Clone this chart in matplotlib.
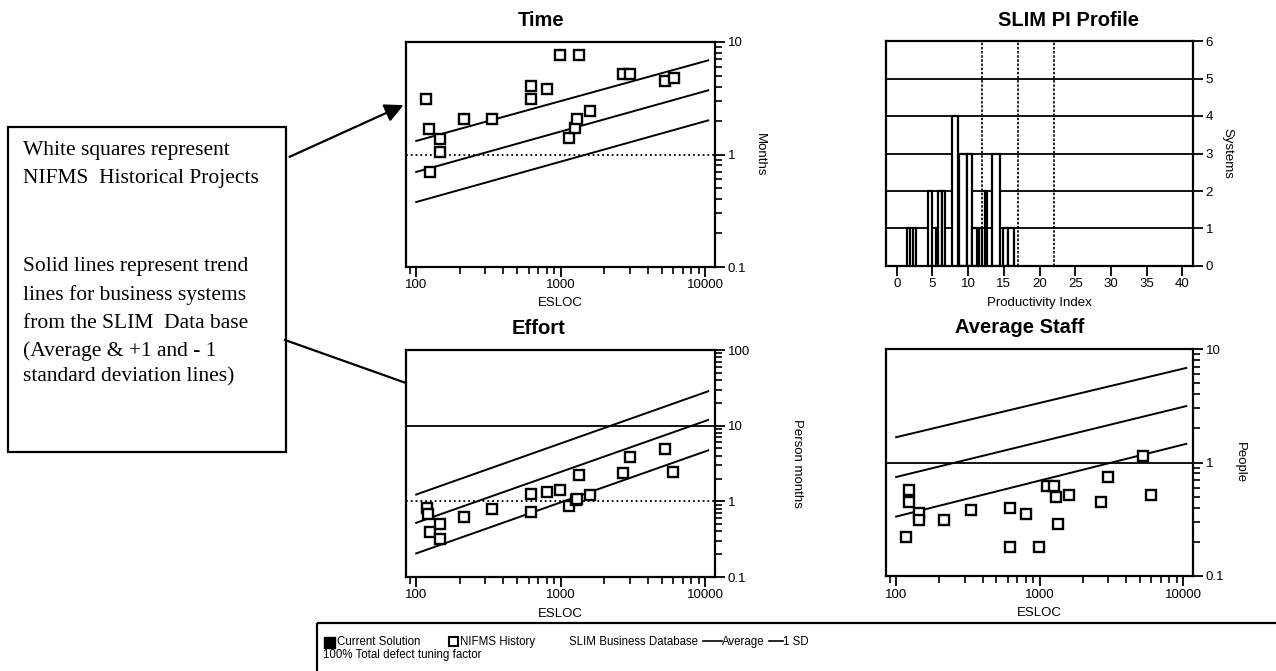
import matplotlib
matplotlib.use('Agg')
import matplotlib.pyplot as plt
from matplotlib.ticker import FixedLocator, FuncFormatter, LogLocator, NullFormatter
from matplotlib.patches import Rectangle

plt.rcParams['font.family'] = ['Liberation Sans', 'DejaVu Sans']

# ---- data ----
trend_esloc = [100, 10500]

time_esloc = [117, 122, 124, 145, 145, 215, 334, 625, 625, 802,
              993, 1133, 1260, 1294, 1349, 1585, 2680, 3030, 5240, 6040]
time_months = [3.1, 1.7, 0.70, 1.38, 1.05, 2.05, 2.05, 4.1, 3.1, 3.8,
               7.6, 1.40, 1.72, 2.08, 7.6, 2.44, 5.2, 5.2, 4.5, 4.8]
time_trend_hi = [1.32, 6.87]
time_trend_avg = [0.70, 3.72]
time_trend_lo = [0.378, 2.01]

effort_esloc = [118, 120, 124, 145, 145, 213, 334, 625, 625, 802,
                993, 1133, 1280, 1300, 1349, 1585, 2680, 3000, 5240, 6000]
effort_pm = [0.82, 0.68, 0.39, 0.50, 0.316, 0.63, 0.80, 1.24, 0.73, 1.33,
             1.40, 0.87, 1.05, 1.09, 2.23, 1.23, 2.40, 3.84, 4.97, 2.47]
effort_trend_hi = [1.23, 28.5]
effort_trend_avg = [0.52, 11.9]
effort_trend_lo = [0.205, 4.72]

staff_esloc = [117, 123, 123, 145, 145, 214, 334, 625, 625, 800,
               990, 1128, 1250, 1300, 1350, 1590, 2680, 3000, 5270, 6000]
staff_people = [0.22, 0.57, 0.45, 0.36, 0.31, 0.31, 0.38, 0.40, 0.18, 0.35,
                0.18, 0.62, 0.62, 0.50, 0.29, 0.52, 0.45, 0.75, 1.13, 0.52]
staff_trend_hi = [1.67, 6.81]
staff_trend_avg = [0.745, 3.14]
staff_trend_lo = [0.334, 1.46]

# SLIM PI profile histogram (bin edges and counts)
pi_lo = [1.4, 2.3, 4.4, 5.45, 5.85, 6.3, 7.7, 8.7, 9.8, 10.5, 11.5, 12.35, 13.4, 14.9, 15.6]
pi_hi = [1.85, 2.7, 4.9, 5.85, 6.3, 6.7, 8.6, 9.8, 10.5, 11.2, 11.95, 12.7, 14.5, 15.6, 16.4]
pi_count = [1, 1, 2, 1, 2, 2, 4, 3, 3, 1, 1, 2, 3, 1, 1]
pi_marks = [12, 17, 22]

W, H = 1276, 671
fig = plt.figure(figsize=(W / 100, H / 100), dpi=100)


def box(l, t, r, b):
    return [l / W, 1 - b / H, (r - l) / W, (b - t) / H]


def frame(ax):
    for s in ax.spines.values():
        s.set_linewidth(1.6)
    ax.yaxis.tick_right()
    ax.yaxis.set_label_position('right')
    ax.tick_params(which='major', direction='out', length=7, width=1.3,
                   labelsize=9.5, pad=2)
    ax.tick_params(which='minor', direction='out', length=5, width=1.2)


def log_panel(rect, esloc, vals, hi, avg, lo, ytop, title, tx, ylabel, ylx, refs):
    ax = fig.add_axes(box(*rect))
    ax.set_xscale('log')
    ax.set_yscale('log')
    ax.set_xlim(85, 11700)
    ax.set_ylim(0.1, ytop)
    frame(ax)
    ax.xaxis.set_major_locator(FixedLocator([100, 1000, 10000]))
    ax.xaxis.set_minor_locator(LogLocator(base=10, subs=range(2, 10)))
    ax.yaxis.set_major_locator(LogLocator(base=10))
    ax.yaxis.set_minor_locator(LogLocator(base=10, subs=range(2, 10)))
    fmt = FuncFormatter(lambda v, p: f'{v:g}')
    ax.xaxis.set_major_formatter(fmt)
    ax.yaxis.set_major_formatter(fmt)
    ax.xaxis.set_minor_formatter(NullFormatter())
    ax.yaxis.set_minor_formatter(NullFormatter())
    for y, ls in refs:
        ax.axhline(y, color='black', lw=1.3, ls=ls, zorder=1)
    for line in (hi, avg, lo):
        ax.plot(trend_esloc, line, color='black', lw=1.4, zorder=2)
    ax.plot(esloc, vals, 's', ms=7.5, mfc='white', mec='black', mew=1.7, zorder=3)
    ax.set_xlabel('ESLOC', fontsize=9.5)
    ax.xaxis.set_label_coords(0.5, -0.135)
    ax.set_ylabel(ylabel, fontsize=9.5, rotation=-90, va='center', ha='center')
    ax.yaxis.set_label_coords(ylx, 0.5)
    ax.text(tx, 1.095, title, transform=ax.transAxes, ha='center', va='center',
            fontsize=14.5, fontweight='bold')
    return ax


log_panel((406, 42, 715, 267), time_esloc, time_months,
          time_trend_hi, time_trend_avg, time_trend_lo, 10,
          'Time', 0.436, 'Months', 1.146, [(1, ':')])
log_panel((406, 350, 715, 577), effort_esloc, effort_pm,
          effort_trend_hi, effort_trend_avg, effort_trend_lo, 100,
          'Effort', 0.43, 'Person months', 1.265, [(10, '-'), (1, ':')])
log_panel((886, 349, 1193, 576), staff_esloc, staff_people,
          staff_trend_hi, staff_trend_avg, staff_trend_lo, 10,
          'Average Staff', 0.437, 'People', 1.153, [(1, '-')])

# SLIM PI profile
ax = fig.add_axes(box(886, 41, 1193, 266))
frame(ax)
ax.set_xlim(-1.5, 41.5)
ax.set_ylim(0, 6)
ax.set_xticks(range(0, 41, 5))
ax.set_yticks(range(0, 7))
for y in range(1, 6):
    ax.axhline(y, color='black', lw=1.3, zorder=1)
for x in pi_marks:
    ax.axvline(x, color='black', lw=1.2, ls=(0, (1.5, 1)), zorder=1)
widths = [h - l for l, h in zip(pi_lo, pi_hi)]
ax.bar(pi_lo, pi_count, width=widths, align='edge', facecolor='white',
       edgecolor='black', lw=1.6, zorder=2)
ax.set_xlabel('Productivity Index', fontsize=9.5)
ax.xaxis.set_label_coords(0.5, -0.14)
ax.set_ylabel('Systems', fontsize=9.5, rotation=-90, va='center', ha='center')
ax.yaxis.set_label_coords(1.111, 0.5)
ax.text(0.596, 1.093, 'SLIM PI Profile', transform=ax.transAxes, ha='center',
        va='center', fontsize=14.5, fontweight='bold')

# overlay for the annotation box, arrows and the legend strip
ov = fig.add_axes([0, 0, 1, 1], facecolor='none')
ov.set_xlim(0, W)
ov.set_ylim(H, 0)
ov.axis('off')

ov.add_patch(Rectangle((8, 127), 278, 325, fill=False, lw=1.6, ec='black'))
serif = ['Liberation Serif', 'DejaVu Serif']
note_lines = [('White squares represent', 150), ('NIFMS  Historical Projects', 178),
              ('Solid lines represent trend', 267), ('lines for business systems', 295),
              ('from the SLIM  Data base', 323), ('(Average & +1 and - 1', 351),
              ('standard deviation lines)', 377)]
for txt, y in note_lines:
    ov.text(23, y, txt, family=serif, fontsize=15.5, va='center', ha='left')

ov.annotate('', xy=(406, 104), xytext=(287, 158),
            arrowprops=dict(arrowstyle='-|>', mutation_scale=28, lw=1.6, color='black'))
ov.plot([285, 406], [340, 383], color='black', lw=1.6)

ov.add_patch(Rectangle((317, 623), 1000, 80, fill=False, lw=1.6, ec='black', clip_on=False))
ov.add_patch(Rectangle((324, 637), 11, 11, fc='black', ec='black'))
ov.add_patch(Rectangle((449, 637), 9, 9, fc='white', ec='black', lw=1.5))
ov.plot([703, 722], [641, 641], color='black', lw=1.2)
ov.plot([769, 783], [641, 641], color='black', lw=1.2)
fs = 8.3
ov.text(337, 642, 'Current Solution', fontsize=fs, va='center')
ov.text(460, 642, 'NIFMS History', fontsize=fs, va='center')
ov.text(569, 642, 'SLIM Business Database', fontsize=fs, va='center')
ov.text(722, 642, 'Average', fontsize=fs, va='center')
ov.text(783, 642, '1 SD', fontsize=fs, va='center')
ov.text(323, 655, '100% Total defect tuning factor', fontsize=fs, va='center')

fig.savefig('out.png', dpi=100)
